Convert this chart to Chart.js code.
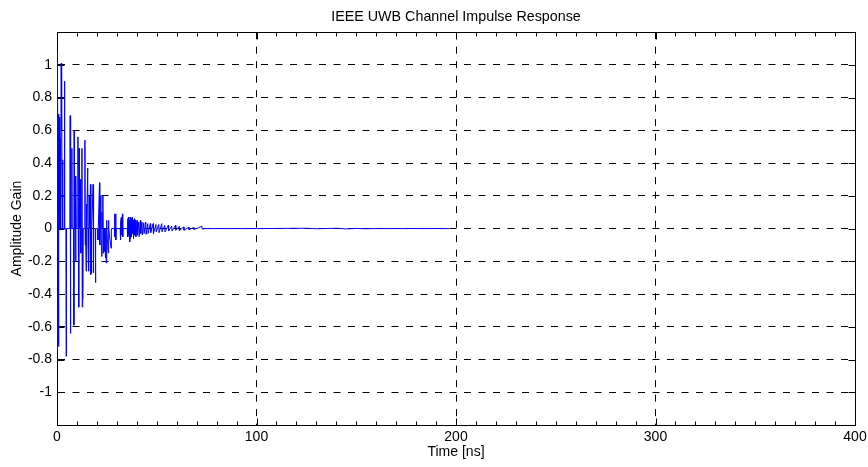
<!DOCTYPE html>
<html>
<head>
<meta charset="utf-8">
<script src="https://cdn.jsdelivr.net/npm/chart.js@4/dist/chart.umd.min.js"></script>
<style>
  html, body { margin: 0; padding: 0; background: #fff; }
  #wrap { width: 868px; height: 467px; }
</style>
</head>
<body>
<div id="wrap"><canvas id="cir" width="868" height="467"></canvas></div>
<script>
// channel impulse response (time in ns, amplitude gain)
const timeNs = [
  0, 0.1, 0.25, 0.4, 0.55, 0.7, 0.85, 1.0, 1.25, 1.4, 1.6, 1.75, 2.1, 2.25, 2.4, 2.55, 2.8, 2.95,
  3.6, 3.75, 3.9, 4.45, 4.6, 4.75,
  6.45, 6.6, 6.75, 6.9, 7.3, 7.45, 7.6, 8.3, 8.45, 8.6, 8.75, 9.2, 9.35, 9.5, 9.65,
  10.35, 10.5, 10.65, 10.9, 11.05, 11.2, 11.8, 11.95, 12.1, 12.5, 12.65, 12.8, 12.95, 13.1,
  13.85, 14.0, 14.15, 14.3, 14.6, 14.75, 14.9, 15.4, 15.55, 15.7, 16.0, 16.15, 16.3,
  16.8, 16.95, 17.1, 17.3, 17.45, 18.1, 18.25, 18.4, 19.15, 19.3, 19.45,
  20.4, 20.55, 20.7, 21.3, 21.45, 21.6, 21.9, 22.05, 22.4, 22.55, 22.7, 23.0, 23.15, 23.3,
  23.7, 23.85, 24.3, 24.45, 24.7, 24.85, 25.0, 25.6, 25.75, 25.9, 26.05, 27.1, 27.25,
  28.75, 28.9, 29.05, 29.2, 29.4, 29.55, 29.7, 31.65, 31.8, 31.95, 32.3, 32.45, 32.8, 32.95, 33.1,
  35.25, 35.4, 35.55, 35.8, 35.95, 36.3, 36.45, 36.7, 36.85, 37.2, 37.35, 37.7, 37.85,
  38.2, 38.35, 38.8, 38.95, 39.4, 39.55, 40.2, 40.35, 41.0, 41.15, 41.8, 41.95, 42.6, 42.75,
  43.5, 43.65, 44.5, 44.65, 45.5, 45.65, 46.8, 46.95, 48.2, 48.35, 49.6, 49.75, 51.0, 51.15,
  52.5, 52.65, 54.0, 54.15, 55.8, 55.95, 57.5, 57.65, 59.4, 59.55, 61.2, 61.35, 63.5, 63.65,
  66.0, 66.15, 68.5, 68.65, 71.0, 72.6, 72.75, 74,
  100, 125, 130, 140, 145, 150, 155, 160, 196.5
];
const gain = [
  0, 1.08, -0.74, 0.88, 0.3, -0.72, 0.7, 0.1, 0.68, 0, 0.55, 0, 1.01, 0.6, 1.0, 0, 0.42, 0,
  0, 0.9, 0, 0, -0.78, 0,
  0, 0.69, -0.64, 0, 0, 0.49, 0, 0, -0.59, 0.6, 0, 0.32, -0.2, 0.3, 0,
  0, 0.56, 0, -0.48, 0.49, 0, 0.3, -0.15, 0, 0.49, -0.48, 0, -0.43, 0,
  0, 0.54, -0.1, 0, -0.26, 0.15, 0, 0.37, -0.1, 0, -0.26, 0.2, 0,
  0.27, -0.28, 0, -0.27, 0, 0.27, -0.27, 0, 0, -0.33, 0,
  0, -0.07, 0, 0.28, -0.1, 0, 0.2, 0, -0.17, 0.1, 0, 0.2, -0.15, 0,
  -0.14, 0, -0.18, 0, -0.21, 0.05, 0, -0.14, 0.05, -0.15, 0, -0.12, 0,
  0, 0.09, -0.05, 0, 0.09, -0.07, 0, 0, -0.07, 0.05, 0.07, -0.04, 0.09, -0.05, 0,
  0, 0.06, -0.05, 0.07, -0.04, 0.05, -0.08, 0.07, -0.06, 0.06, -0.05, 0.07, -0.03,
  0.05, -0.06, 0.06, -0.04, 0.05, -0.05, 0.05, -0.04, 0.04, -0.05, 0.05, -0.03, 0.04, -0.04,
  0.035, -0.03, 0.04, -0.035, 0.03, -0.03, 0.03, -0.025, 0.03, -0.03, 0.025, -0.02, 0.025, -0.025,
  0.03, -0.02, 0.02, -0.02, 0.02, -0.015, 0.015, -0.015, 0.02, -0.01, 0.012, -0.012, 0.01, -0.01,
  0.008, -0.006, 0.006, -0.005, 0.005, 0.015, -0.003, 0,
  0, 0.002, -0.001, 0.002, -0.002, 0.001, -0.001, 0, 0
];

const xMajor = [0, 100, 200, 300, 400];
const yLabels = [-1, -0.8, -0.6, -0.4, -0.2, 0, 0.2, 0.4, 0.6, 0.8, 1];

const FONT = { family: 'Arial, "Liberation Sans", sans-serif', size: 14 };

const isMajorX = v => xMajor.includes(Math.round(v));
const isLabelY = v => yLabels.some(l => Math.abs(l - v) < 1e-6);

// box on all four sides plus inward tick marks, like a matlab axes
const axesBox = {
  id: 'axesBox',
  beforeDatasetsDraw(chart) {
    const { ctx, chartArea: a, scales: { x, y } } = chart;
    const L = Math.round(a.left) + 0.5, R = Math.round(a.right) + 0.5;
    const T = Math.round(a.top) + 0.5, B = Math.round(a.bottom) + 0.5;
    ctx.save();
    ctx.strokeStyle = '#000';
    ctx.lineWidth = 1;
    ctx.setLineDash([]);
    ctx.strokeRect(L, T, R - L, B - T);
    ctx.beginPath();
    x.ticks.forEach(t => {
      const px = Math.round(x.getPixelForValue(t.value)) + 0.5;
      const len = isMajorX(t.value) ? 7 : 4;
      ctx.moveTo(px, B); ctx.lineTo(px, B - len);
      ctx.moveTo(px, T); ctx.lineTo(px, T + len);
    });
    y.ticks.forEach(t => {
      if (!isLabelY(t.value)) return;
      const py = Math.round(y.getPixelForValue(t.value)) + 0.5;
      ctx.moveTo(L, py); ctx.lineTo(L + 7, py);
      ctx.moveTo(R, py); ctx.lineTo(R - 7, py);
    });
    ctx.stroke();
    ctx.restore();
  }
};

const data = timeNs.map((t, i) => ({ x: t, y: gain[i] }));

new Chart(document.getElementById('cir'), {
  type: 'line',
  data: {
    datasets: [{
      data: data,
      borderColor: '#0000ff',
      borderWidth: 1,
      pointRadius: 0,
      tension: 0,
      fill: false
    }]
  },
  options: {
    responsive: false,
    animation: false,
    layout: { padding: { left: 0, right: 13, top: 0, bottom: 0 } },
    plugins: {
      legend: { display: false },
      tooltip: { enabled: false },
      title: {
        display: true,
        text: 'IEEE UWB Channel Impulse Response',
        fullSize: false,
        color: '#000',
        font: { ...FONT, size: 14.3, weight: 'normal' },
        padding: { top: 8, bottom: 7 }
      }
    },
    scales: {
      x: {
        type: 'linear',
        min: 0,
        max: 400,
        afterFit: s => { s.height = 42; s.paddingLeft = 0; s.paddingRight = 0; },
        ticks: {
          stepSize: 10,
          autoSkip: false,
          maxRotation: 0,
          padding: 4,
          color: '#000',
          font: FONT,
          callback: v => isMajorX(v) ? String(Math.round(v)) : ''
        },
        grid: {
          drawTicks: false,
          lineWidth: 1,
          color: c => (isMajorX(c.tick.value) && c.tick.value > 0 && c.tick.value < 400) ? '#000' : 'rgba(0,0,0,0)'
        },
        border: { display: true, color: '#000', width: 1, dash: [7, 7.5] },
        title: {
          display: true,
          text: 'Time [ns]',
          color: '#000',
          font: FONT,
          padding: { top: 0, bottom: 6.5 }
        }
      },
      y: {
        type: 'linear',
        min: -1.2,
        max: 1.2,
        afterFit: s => { s.width = 57; },
        ticks: {
          stepSize: 0.2,
          autoSkip: false,
          padding: 5,
          color: '#000',
          font: FONT,
          callback: v => isLabelY(v) ? String(Math.round(v * 10) / 10) : ''
        },
        grid: {
          drawTicks: false,
          lineWidth: 1,
          color: c => isLabelY(c.tick.value) ? '#000' : 'rgba(0,0,0,0)'
        },
        border: { display: true, color: '#000', width: 1, dash: [7, 7.5] },
        title: {
          display: true,
          text: 'Amplitude Gain',
          color: '#000',
          font: FONT,
          padding: { top: 9, bottom: 0 }
        }
      }
    }
  },
  plugins: [axesBox]
});
</script>
</body>
</html>
